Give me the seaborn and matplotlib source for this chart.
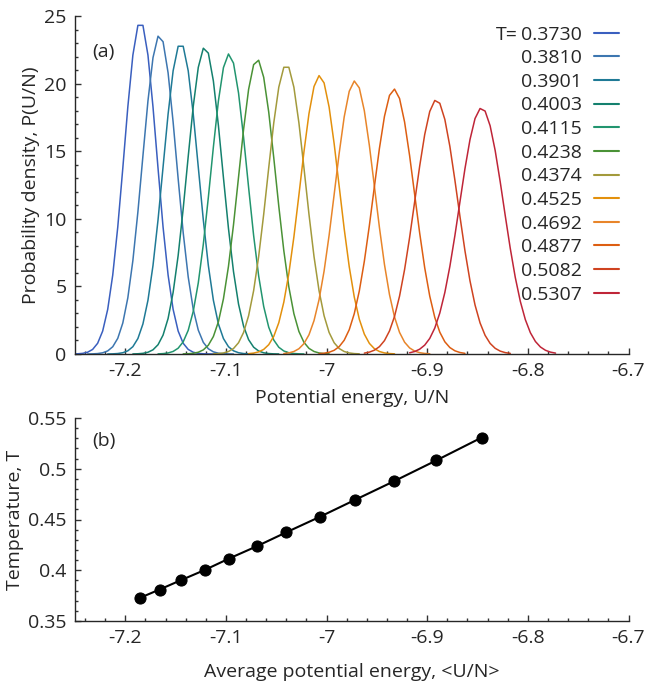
import numpy as np
import pandas as pd
import matplotlib
matplotlib.use("Agg")
import matplotlib.pyplot as plt
from matplotlib.ticker import MultipleLocator
from matplotlib.lines import Line2D
import seaborn as sns

# ---- data ----
temps = ["0.3730", "0.3810", "0.3901", "0.4003", "0.4115", "0.4238",
         "0.4374", "0.4525", "0.4692", "0.4877", "0.5082", "0.5307"]
T_vals = [0.3730, 0.3810, 0.3901, 0.4003, 0.4115, 0.4238,
          0.4374, 0.4525, 0.4692, 0.4877, 0.5082, 0.5307]
avg_U = [-7.185, -7.166, -7.145, -7.121, -7.097, -7.069,
         -7.040, -7.007, -6.972, -6.933, -6.891, -6.846]
peak_P = [24.6, 23.6, 23.0, 22.7, 22.2, 21.8, 21.4, 20.6, 20.2, 19.6, 18.8, 18.2]
colors = ["#3a5fbf", "#3d76b0", "#1f7a96", "#14806e", "#22956f", "#4a9236",
          "#a39a3c", "#e3900c", "#e8852a", "#dd5e12", "#cf4320", "#bf2538"]
bin_width = 0.005

# histogram-like densities (normal shape with read mean & peak height)
grid = np.round(np.arange(-7.2625, -6.70, bin_width), 4)
rows = []
for lab, mu, pk in zip(temps, avg_U, peak_P):
    sig = 1.0 / (np.sqrt(2 * np.pi) * pk)
    xs = grid[np.abs(grid - mu) <= 0.075]
    ps = pk * np.exp(-0.5 * ((xs - mu) / sig) ** 2)
    for x, p in zip(xs, ps):
        rows.append((lab, x, p))
df = pd.DataFrame(rows, columns=["T", "U", "P"])
df_b = pd.DataFrame({"U": avg_U, "T": T_vals})

sns.set_style("ticks")
plt.rcParams["font.family"] = ["Open Sans", "DejaVu Sans"]
FS = 14
plt.rcParams["font.size"] = FS

fig = plt.figure(figsize=(6.6, 6.86), dpi=100)
W, H = 660, 686
axA = fig.add_axes([75 / W, (H - 354) / H, 553.5 / W, 338 / H])
axB = fig.add_axes([75 / W, (H - 621) / H, 553.5 / W, 203 / H])

sns.lineplot(data=df, x="U", y="P", hue="T", hue_order=temps, palette=colors,
             linewidth=1.1, ax=axA, legend=False, sort=True, estimator=None)
sns.lineplot(data=df_b, x="U", y="T", color="black", marker="o", markersize=8,
             markeredgecolor="black", linewidth=1.5, ax=axB, estimator=None)

for ax in (axA, axB):
    ax.set_xlim(-7.25, -6.7)
    ax.xaxis.set_major_locator(MultipleLocator(0.1))
    ax.xaxis.set_minor_locator(MultipleLocator(0.02))
    ax.tick_params(which="both", direction="in", labelsize=FS, width=1.0, color="#333333")
    ax.tick_params(which="major", length=4.5)
    ax.tick_params(which="minor", length=2.3)
    ax.tick_params(axis="x", which="major", pad=5.5)
    ax.tick_params(axis="y", which="major", pad=6)
    for s in ("top", "right"):
        ax.spines[s].set_visible(False)
    for s in ("left", "bottom"):
        ax.spines[s].set_linewidth(1.0)
    ax.xaxis.set_major_formatter(plt.FuncFormatter(lambda v, p: f"{v:g}"))
    ax.yaxis.set_major_formatter(plt.FuncFormatter(lambda v, p: f"{v:g}"))

axA.set_ylim(0, 25)
axA.yaxis.set_major_locator(MultipleLocator(5))
axA.yaxis.set_minor_locator(MultipleLocator(1))
axA.set_xlabel("Potential energy, U/N", fontsize=FS, labelpad=7)
axA.set_ylabel("Probability density, P(U/N)", fontsize=FS, labelpad=3)
axA.text(0.031, 0.893, "(a)", transform=axA.transAxes, fontsize=FS, va="center")

axB.set_ylim(0.35, 0.55)
axB.yaxis.set_major_locator(MultipleLocator(0.05))
axB.yaxis.set_minor_locator(MultipleLocator(0.01))
axB.set_xlabel("Average potential energy, <U/N>", fontsize=FS, labelpad=12)
axB.set_ylabel("Temperature, T", fontsize=FS, labelpad=3)
axB.text(0.031, 0.888, "(b)", transform=axB.transAxes, fontsize=FS, va="center")

handles = [Line2D([], [], color=c, lw=1.5) for c in colors]
leg = axA.legend(handles, temps, loc="upper right", frameon=False,
                 markerfirst=False, handlelength=1.3, handletextpad=0.6,
                 labelspacing=0.29, borderpad=0, borderaxespad=0, fontsize=FS,
                 bbox_to_anchor=(619 / W, (H - 25.5) / H), bbox_transform=fig.transFigure)
fig.canvas.draw()
t0 = leg.get_texts()[0]
bb = t0.get_window_extent()
fig.text(bb.x0 - 3, (bb.y0 + bb.y1) / 2, "T=", transform=None, ha="right", va="center",
         fontsize=FS)

fig.savefig("out.png", dpi=100)
